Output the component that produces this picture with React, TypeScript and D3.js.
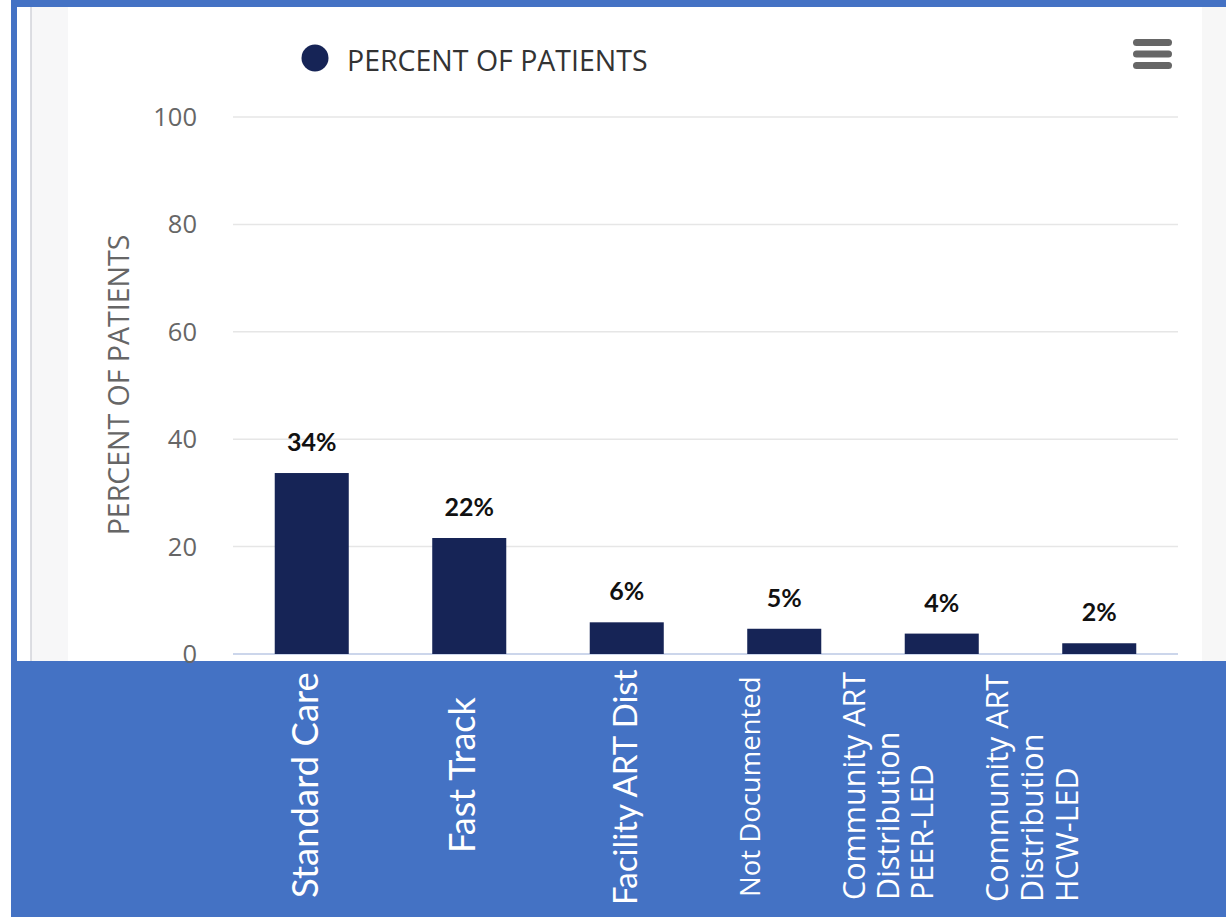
import React from "react";
import * as d3 from "d3";

const categories: string[][] = [
  ["Standard Care"],
  ["Fast Track"],
  ["Facility ART Dist"],
  ["Not Documented"],
  ["Community ART", "Distribution", "PEER-LED"],
  ["Community ART", "Distribution", "HCW-LED"],
];
const values: number[] = [33.7, 21.6, 5.9, 4.7, 3.8, 2.0];
const yTicks: number[] = [0, 20, 40, 60, 80, 100];
const seriesName = "PERCENT OF PATIENTS";
const yTitle = "PERCENT OF PATIENTS";

// per-label text-box layout (as in the reference's overlaid text boxes)
const LATO = "Lato, 'Open Sans', sans-serif";
const OPEN = "'Open Sans', sans-serif";
const labelLayout = [
  { dx: 6, bottom: 898, size: 36.5, lh: 35, font: LATO },
  { dx: 6, bottom: 853, size: 36, lh: 35, font: LATO },
  { dx: 10, bottom: 905, size: 33, lh: 35, font: LATO },
  { dx: -24, bottom: 897, size: 27.5, lh: 35, font: OPEN },
  { dx: -77, bottom: 900, size: 30.5, lh: 34, font: OPEN },
  { dx: -91, bottom: 902, size: 30.5, lh: 35, font: OPEN },
];

const W = 1226;
const H = 917;
const BLUE = "#4472C4";
const NAVY = "#162456";

export default function App() {
  const keys = categories.map((c) => c.join(" "));
  const x = d3
    .scaleBand<string>()
    .domain(keys)
    .range([233, 1178])
    .paddingInner(0.53)
    .paddingOuter(0.265);
  const y = d3.scaleLinear().domain([0, 100]).range([654, 117]);

  return (
    <svg
      width={W}
      height={H}
      style={{ position: "fixed", left: 0, top: 0 }}
      fontFamily={LATO}
    >
      <rect x={0} y={0} width={W} height={H} fill="#ffffff" />
      <rect x={11} y={0} width={W - 11} height={H} fill={BLUE} />
      <rect x={17} y={7} width={1185} height={654} fill="#ffffff" />
      <rect x={1202} y={7} width={24} height={654} fill="#f7f7f7" />
      <rect x={31} y={7} width={37} height={654} fill="#f7f7f8" />
      <line x1={31} x2={31} y1={7} y2={661} stroke="#d2d3da" strokeWidth={1.5} />

      {/* gridlines */}
      {yTicks.map((t) => (
        <line
          key={"g" + t}
          x1={233}
          x2={1178}
          y1={y(t)}
          y2={y(t)}
          stroke={t === 0 ? "#ccd6eb" : "#e6e6e6"}
          strokeWidth={t === 0 ? 2 : 1.5}
        />
      ))}
      {yTicks.map((t) => (
        <text
          key={"t" + t}
          x={197}
          y={y(t)}
          dy="0.35em"
          textAnchor="end"
          fontSize={25.5}
          fill="#666666"
          fontFamily={OPEN}
        >
          {t}
        </text>
      ))}
      <text
        transform={`translate(129,${(233 + 537) / 2}) rotate(-90)`}
        textAnchor="middle"
        fontSize={28.5}
        fill="#666666"
        fontFamily={OPEN}
      >
        {yTitle}
      </text>

      {/* bars */}
      {values.map((v, i) => (
        <rect
          key={"b" + i}
          x={x(keys[i])}
          y={y(v)}
          width={x.bandwidth()}
          height={y(0) - y(v)}
          fill={NAVY}
        />
      ))}
      {values.map((v, i) => (
        <text
          key={"l" + i}
          x={(x(keys[i]) as number) + x.bandwidth() / 2}
          y={y(v) - 22}
          textAnchor="middle"
          fontSize={25}
          fontWeight="bold"
          fill="#111111"
        >
          {Math.round(v) + "%"}
        </text>
      ))}

      {/* legend */}
      <circle cx={315} cy={58} r={13.5} fill={NAVY} />
      <text x={347} y={71} fontSize={28.5} fill="#333333" fontFamily={OPEN}>
        {seriesName}
      </text>

      {/* menu icon */}
      {[0, 1, 2].map((k) => (
        <rect
          key={"m" + k}
          x={1133}
          y={39 + k * 11.5}
          width={39}
          height={7}
          rx={3.5}
          fill="#666666"
        />
      ))}

      {/* category labels */}
      {categories.map((lines, i) => {
        const L = labelLayout[i];
        const cx = (x(keys[i]) as number) + x.bandwidth() / 2;
        return (
          <g key={"c" + i}>
            {lines.map((ln, j) => (
              <text
                key={j}
                transform={`translate(${cx + L.dx + j * L.lh},${L.bottom}) rotate(-90)`}
                fontSize={L.size}
                fontFamily={L.font}
                fill="#ffffff"
              >
                {ln}
              </text>
            ))}
          </g>
        );
      })}
    </svg>
  );
}
